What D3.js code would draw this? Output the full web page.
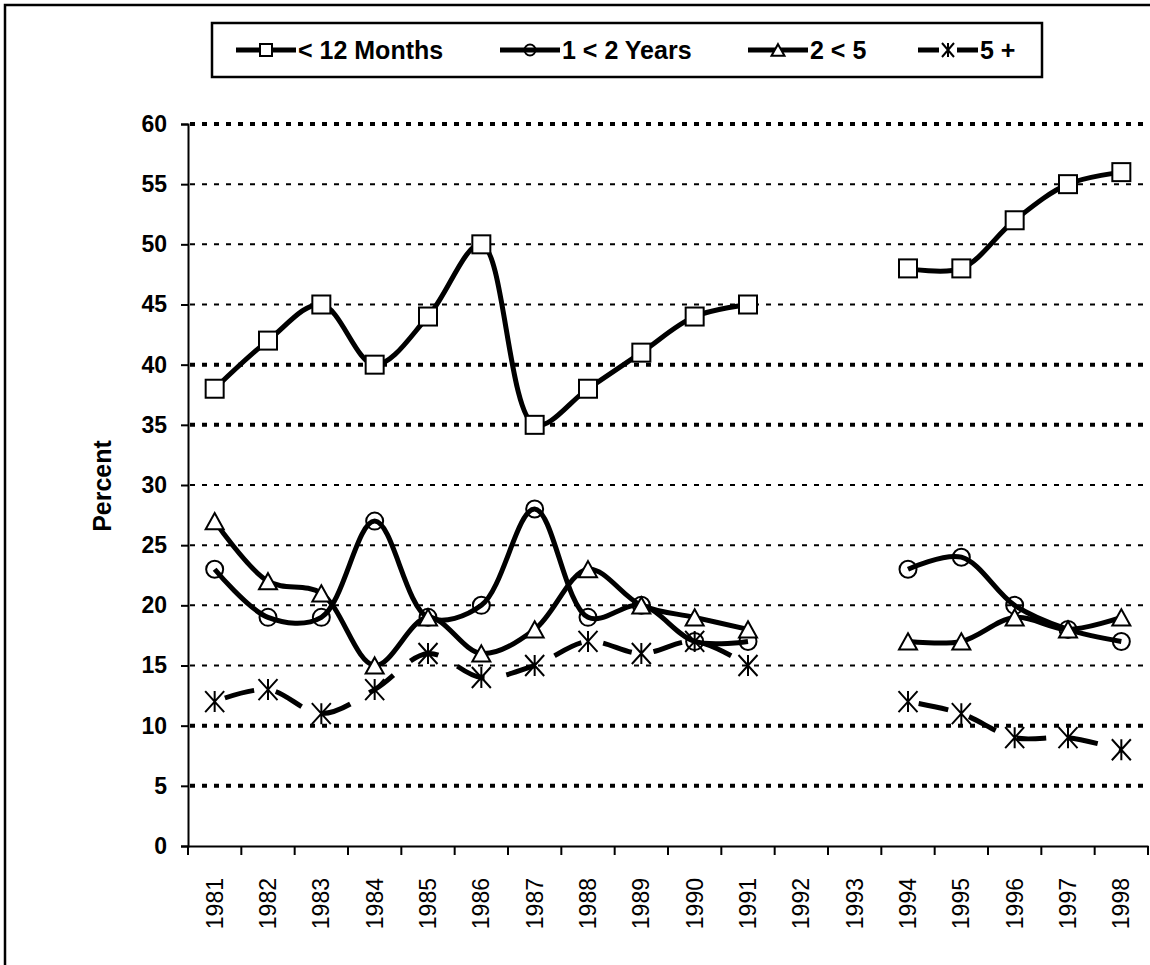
<!DOCTYPE html>
<html>
<head>
<meta charset="utf-8">
<script src="https://cdn.jsdelivr.net/npm/d3@7"></script>
<style>
  body { margin: 0; background: #fff; }
  svg { display: block; }
  text { font-family: "Liberation Sans", Arial, sans-serif; fill: #000; }
</style>
</head>
<body>
<div id="chart"></div>
<script>
// data, 1992 and 1993 are missing
var years = ["1981","1982","1983","1984","1985","1986","1987","1988","1989",
             "1990","1991","1992","1993","1994","1995","1996","1997","1998"];
var under12 = [38, 42, 45, 40, 44, 50, 35, 38, 41, 44, 45, null, null, 48, 48, 52, 55, 56];
var oneTo2  = [23, 19, 19, 27, 19, 20, 28, 19, 20, 17, 17, null, null, 23, 24, 20, 18, 17];
var twoTo5  = [27, 22, 21, 15, 19, 16, 18, 23, 20, 19, 18, null, null, 17, 17, 19, 18, 19];
var fivePlus = [12, 13, 11, 13, 16, 14, 15, 17, 16, 17, 15, null, null, 12, 11, 9, 9, 8];
var seriesNames = ["< 12 Months", "1 < 2 Years", "2 < 5", "5 +"];
var yTicks = [0, 5, 10, 15, 20, 25, 30, 35, 40, 45, 50, 55, 60];
var boldGrid = [60, 40, 35, 10, 5];

var W = 1150, H = 965;
var plot = {left: 188, right: 1148, top: 124, bottom: 846};

var svg = d3.select("#chart").append("svg")
    .attr("width", W)
    .attr("height", H);

// outer frame, runs off the right and bottom edge
svg.append("rect")
    .attr("x", 5).attr("y", 5)
    .attr("width", 1300).attr("height", 1100)
    .attr("fill", "none")
    .attr("stroke", "#000")
    .attr("stroke-width", 2.5);

var x = d3.scaleBand()
    .domain(years)
    .range([plot.left, plot.right])
    .paddingInner(0).paddingOuter(0);
var bw = x.bandwidth();
function cx(d) { return x(d) + bw / 2; }

var y = d3.scaleLinear()
    .domain([0, 60])
    .range([plot.bottom, plot.top]);

// gridlines (the rendering in the picture alternates heavy and light dots)
svg.append("g").selectAll("line")
    .data(yTicks.filter(function(v) { return v > 0; }))
    .join("line")
    .attr("x1", plot.left + 2)
    .attr("x2", plot.right)
    .attr("y1", function(d) { return y(d); })
    .attr("y2", function(d) { return y(d); })
    .attr("stroke", "#000")
    .attr("stroke-width", function(d) { return boldGrid.indexOf(d) >= 0 ? 4 : 2; })
    .attr("stroke-dasharray", "5,7");

// y axis
var axisY = svg.append("g")
    .attr("transform", "translate(" + plot.left + ",0)")
    .call(d3.axisLeft(y).tickValues(yTicks).tickSize(7).tickPadding(14));
axisY.select(".domain").attr("stroke-width", 2);
axisY.selectAll(".tick line").attr("stroke-width", 2);
axisY.selectAll(".tick text")
    .style("font-size", "23px")
    .style("font-weight", "bold")
    .style("font-family", "'Liberation Sans', Arial, sans-serif");

// x axis: ticks between the categories
var axisX = svg.append("g")
    .attr("transform", "translate(0," + plot.bottom + ")")
    .call(d3.axisBottom(x).tickSize(0).tickSizeOuter(0).tickPadding(0));
axisX.select(".domain").attr("stroke-width", 2);
axisX.selectAll(".tick text")
    .attr("transform", "translate(0,32) rotate(-90)")
    .attr("x", 0).attr("y", 0)
    .attr("dy", "0.35em")
    .style("text-anchor", "end")
    .style("font-size", "23px")
    .style("font-family", "'Liberation Sans', Arial, sans-serif");
axisX.append("g").selectAll("line")
    .data(years.concat(["end"]))
    .join("line")
    .attr("x1", function(d, i) { return plot.left + i * bw; })
    .attr("x2", function(d, i) { return plot.left + i * bw; })
    .attr("y1", 0).attr("y2", 9)
    .attr("stroke", "#000")
    .attr("stroke-width", 2);

// y title
svg.append("text")
    .attr("transform", "translate(102,486) rotate(-90)")
    .attr("dy", "0.35em")
    .style("text-anchor", "middle")
    .style("font-size", "25px")
    .style("font-weight", "bold")
    .text("Percent");

// lines
var line = d3.line()
    .defined(function(d) { return d.v !== null; })
    .x(function(d) { return cx(d.year); })
    .y(function(d) { return y(d.v); })
    .curve(d3.curveCatmullRom.alpha(0.5));

function pts(values) {
    return years.map(function(yr, i) { return {year: yr, v: values[i]}; });
}

var allSeries = [
    {values: under12, marker: "square", dash: null},
    {values: oneTo2, marker: "circle", dash: null},
    {values: twoTo5, marker: "triangle", dash: null},
    {values: fivePlus, marker: "star", dash: "30,22"}
];

allSeries.forEach(function(s) {
    svg.append("path")
        .datum(pts(s.values))
        .attr("d", line)
        .attr("fill", "none")
        .attr("stroke", "#000")
        .attr("stroke-width", 5)
        .attr("stroke-linejoin", "round")
        .attr("stroke-dasharray", s.dash)
        .attr("stroke-dashoffset", s.dash ? 41 : null);
});

function drawMarker(g, type, px, py, size) {
    if (type === "square") {
        g.append("rect")
            .attr("x", px - size / 2).attr("y", py - size / 2)
            .attr("width", size).attr("height", size)
            .attr("fill", "#fff").attr("stroke", "#000").attr("stroke-width", 2);
    } else if (type === "circle") {
        g.append("circle")
            .attr("cx", px).attr("cy", py).attr("r", size / 2)
            .attr("fill", "none").attr("stroke", "#000").attr("stroke-width", 2);
    } else if (type === "triangle") {
        var h = size * 0.9;
        g.append("path")
            .attr("d", "M" + px + "," + (py - h / 2) + "L" + (px + size / 2) + "," + (py + h / 2) +
                       "L" + (px - size / 2) + "," + (py + h / 2) + "Z")
            .attr("fill", "#fff").attr("stroke", "#000").attr("stroke-width", 2);
    } else if (type === "star") {
        var a = size / 2, b = size / 2 + 1;
        g.append("path")
            .attr("d", "M" + (px - a) + "," + (py - b) + "L" + (px + a) + "," + (py + b) +
                       "M" + (px + a) + "," + (py - b) + "L" + (px - a) + "," + (py + b) +
                       "M" + px + "," + (py - b) + "L" + px + "," + (py + b))
            .attr("fill", "none").attr("stroke", "#000").attr("stroke-width", 2);
    }
}

var markerSize = {square: 18, circle: 17, triangle: 18, star: 19};

allSeries.forEach(function(s) {
    var g = svg.append("g");
    pts(s.values).forEach(function(d) {
        if (d.v === null) return;
        drawMarker(g, s.marker, cx(d.year), y(d.v), markerSize[s.marker]);
    });
});

// legend
var legend = svg.append("g");
legend.append("rect")
    .attr("x", 212).attr("y", 23)
    .attr("width", 830).attr("height", 54)
    .attr("fill", "#fff")
    .attr("stroke", "#000")
    .attr("stroke-width", 2.5);

var legendX = [236, 500, 748, 918];
var legendMarkerSize = {square: 12, circle: 11, triangle: 13, star: 12};
allSeries.forEach(function(s, i) {
    var x0 = legendX[i], x1 = x0 + 60, mid = (x0 + x1) / 2, ly = 50;
    if (s.dash) {
        legend.append("line").attr("x1", x0).attr("x2", mid - 9).attr("y1", ly).attr("y2", ly)
            .attr("stroke", "#000").attr("stroke-width", 5);
        legend.append("line").attr("x1", mid + 9).attr("x2", x1).attr("y1", ly).attr("y2", ly)
            .attr("stroke", "#000").attr("stroke-width", 5);
    } else {
        legend.append("line").attr("x1", x0).attr("x2", x1).attr("y1", ly).attr("y2", ly)
            .attr("stroke", "#000").attr("stroke-width", 5);
    }
    drawMarker(legend, s.marker, mid, ly, legendMarkerSize[s.marker]);
    legend.append("text")
        .attr("x", x1 + 2).attr("y", ly)
        .attr("dy", "0.36em")
        .style("font-size", "25px")
        .style("font-weight", "bold")
        .text(seriesNames[i]);
});
</script>
</body>
</html>
